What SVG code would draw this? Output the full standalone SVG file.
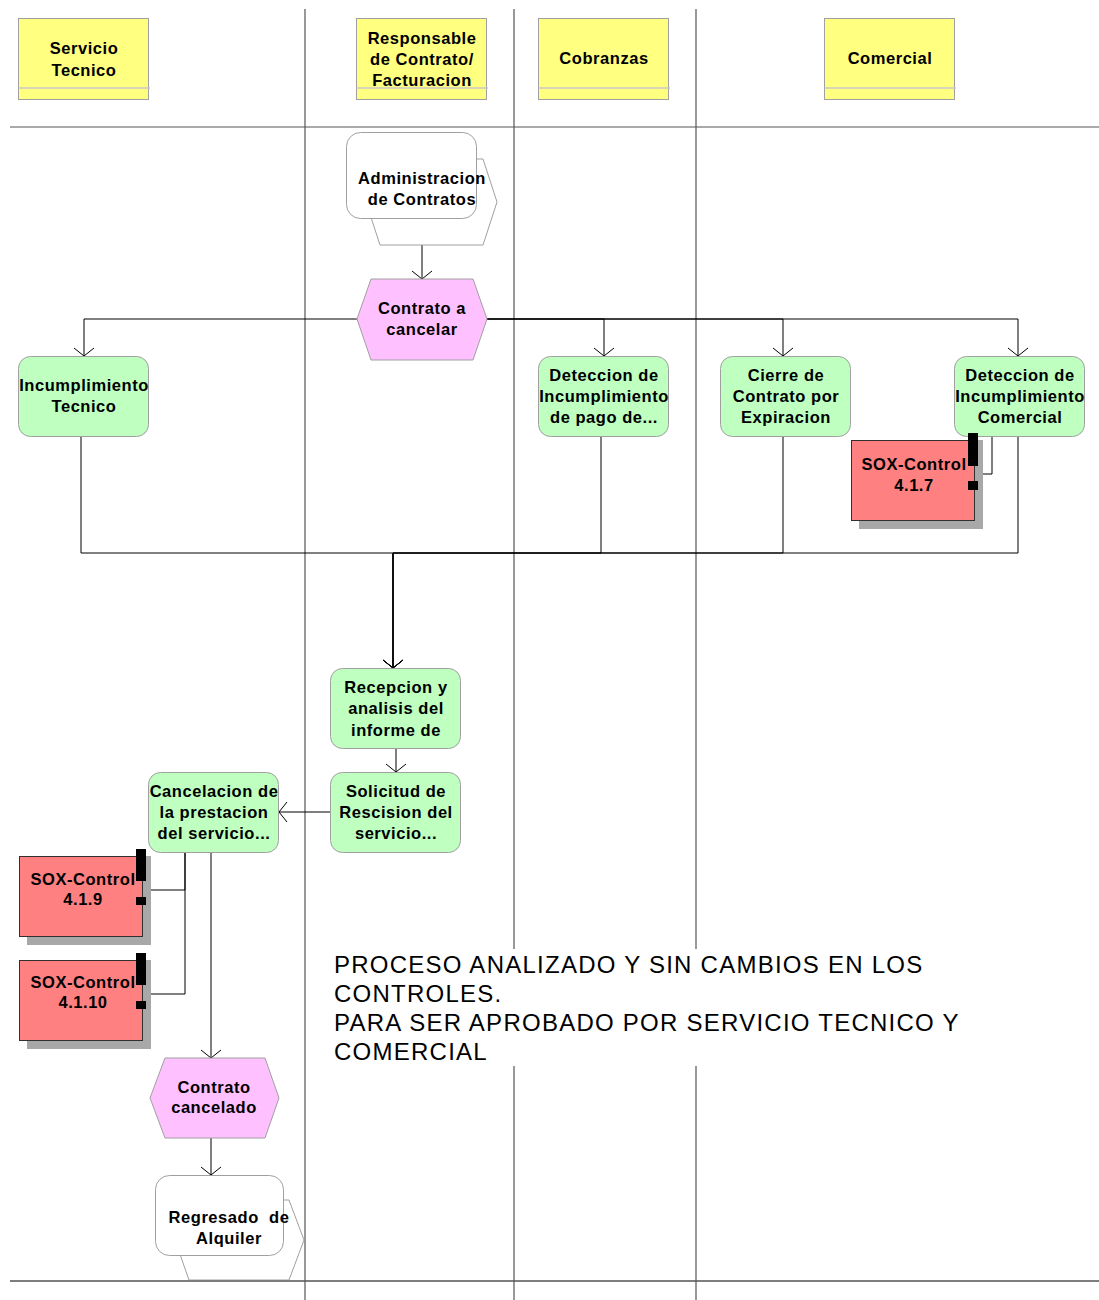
<svg xmlns="http://www.w3.org/2000/svg" width="1099" height="1300" viewBox="0 0 1099 1300">
  <style>
    .lane { stroke: #555; stroke-width: 1.2; fill: none; }
    .hdr { fill: #ffff80; stroke: #a0a0a0; stroke-width: 1; }
    .hdrline { stroke: #c8c8c8; stroke-width: 1.5; }
    .fn { fill: #bfffbf; stroke: #a0a0a0; stroke-width: 1; }
    .ev { fill: #ffc0ff; stroke: #a0a0a0; stroke-width: 1; }
    .pi { fill: #ffffff; stroke: #a0a0a0; stroke-width: 1; }
    .sox { fill: #ff8080; stroke: #303030; stroke-width: 1; }
    .shadow { fill: #a8a8a8; }
    .mark { fill: #000; }
    .t { font-family: "Liberation Sans", Arial, sans-serif; font-weight: bold; font-size: 16.5px; letter-spacing: 0.55px; fill: #000; text-anchor: middle; }
    .note { font-family: "Liberation Sans", Arial, sans-serif; font-size: 24px; letter-spacing: 1.25px; fill: #000; }
    .conn path { stroke: #000; stroke-width: 1; fill: none; }
    .arr { marker-end: url(#arrow); }
  </style>
  <defs>
    <marker id="arrow" markerUnits="userSpaceOnUse" viewBox="-10 -11 12 22" refX="0" refY="0" markerWidth="12" markerHeight="22" orient="auto" overflow="visible">
      <path d="M-8,-10 L0,0 L-8,10" fill="none" stroke="#000" stroke-width="1"/>
    </marker>
  </defs>

  <rect width="1099" height="1300" fill="#fff"/>

  <!-- swimlane grid -->
  <g id="lanes">
    <path class="lane" d="M305,9 V1300 M514,9 V1300 M696,9 V1300"/>
    <path class="lane" d="M10,127 H1099 M10,1281 H1099"/>
  </g>

  <!-- lane headers -->
  <g id="hdr-servicio">
    <rect class="hdr" x="18.5" y="18.5" width="130" height="81"/>
    <line class="hdrline" x1="18.5" y1="88" x2="150" y2="88"/>
    <text class="t"><tspan x="84" y="54">Servicio</tspan><tspan x="84" y="76">Tecnico</tspan></text>
  </g>
  <g id="hdr-responsable">
    <rect class="hdr" x="356.5" y="18.5" width="130" height="81"/>
    <line class="hdrline" x1="356.5" y1="88" x2="488" y2="88"/>
    <text class="t"><tspan x="422" y="44">Responsable</tspan><tspan x="422" y="65">de Contrato/</tspan><tspan x="422" y="86">Facturacion</tspan></text>
  </g>
  <g id="hdr-cobranzas">
    <rect class="hdr" x="538.5" y="18.5" width="130" height="81"/>
    <line class="hdrline" x1="538.5" y1="88" x2="670" y2="88"/>
    <text class="t" x="604" y="64">Cobranzas</text>
  </g>
  <g id="hdr-comercial">
    <rect class="hdr" x="824.5" y="18.5" width="130" height="81"/>
    <line class="hdrline" x1="824.5" y1="88" x2="956" y2="88"/>
    <text class="t" x="890" y="64">Comercial</text>
  </g>

  <!-- connectors -->
  <g id="connectors" class="conn">
    <path class="arr" d="M422,245 V279"/>
    <path class="arr" d="M357,319 H84 V356"/>
    <path class="arr" d="M487,319 H604 V356"/>
    <path class="arr" d="M487,319 H783 V356"/>
    <path class="arr" d="M487,319 H1018 V356"/>
    <path class="arr" d="M81,437 V553 H393 V668"/>
    <path class="arr" d="M601,437 V553 H393 V668"/>
    <path class="arr" d="M783,437 V553 H393 V668"/>
    <path class="arr" d="M1018,437 V553 H393 V668"/>
    <path d="M978,474 H992 V437"/>
    <path class="arr" d="M396,748 V772"/>
    <path class="arr" d="M330,812 H279"/>
    <path class="arr" d="M211,852 V1058"/>
    <path d="M146,890 H185 V852"/>
    <path d="M146,994 H185 V852"/>
    <path class="arr" d="M211,1138 V1175"/>
  </g>

  <!-- process interface: Administracion de Contratos -->
  <g id="pi-administracion">
    <polygon class="pi" points="380,159 483,159 497,202 483,245 380,245 366,202"/>
    <rect class="pi" x="346.5" y="132.5" width="130" height="86" rx="14"/>
    <text class="t"><tspan x="422" y="184">Administracion</tspan><tspan x="422" y="205">de Contratos</tspan></text>
  </g>

  <!-- event: Contrato a cancelar -->
  <g id="ev-contrato-a-cancelar">
    <polygon class="ev" points="357,319 371,279 473,279 487,319 473,360 371,360"/>
    <text class="t"><tspan x="422" y="314">Contrato a</tspan><tspan x="422" y="335">cancelar</tspan></text>
  </g>

  <!-- functions -->
  <g id="fn-incumplimiento-tecnico">
    <rect class="fn" x="18.5" y="356.5" width="130" height="80" rx="12"/>
    <text class="t"><tspan x="84" y="391">Incumplimiento</tspan><tspan x="84" y="412">Tecnico</tspan></text>
  </g>
  <g id="fn-deteccion-pago">
    <rect class="fn" x="538.5" y="356.5" width="130" height="80" rx="12"/>
    <text class="t"><tspan x="604" y="381">Deteccion de</tspan><tspan x="604" y="402">Incumplimiento</tspan><tspan x="604" y="423">de pago de...</tspan></text>
  </g>
  <g id="fn-cierre-contrato">
    <rect class="fn" x="720.5" y="356.5" width="130" height="80" rx="12"/>
    <text class="t"><tspan x="786" y="381">Cierre de</tspan><tspan x="786" y="402">Contrato por</tspan><tspan x="786" y="423">Expiracion</tspan></text>
  </g>
  <g id="fn-deteccion-comercial">
    <rect class="fn" x="954.5" y="356.5" width="130" height="80" rx="12"/>
    <text class="t"><tspan x="1020" y="381">Deteccion de</tspan><tspan x="1020" y="402">Incumplimiento</tspan><tspan x="1020" y="423">Comercial</tspan></text>
  </g>

  <!-- control 4.1.7 -->
  <g id="sox-417">
    <rect class="shadow" x="859" y="448" width="124" height="81"/>
    <rect class="sox" x="851.5" y="440.5" width="123" height="80"/>
    <text class="t"><tspan x="914" y="470">SOX-Control</tspan><tspan x="914" y="491">4.1.7</tspan></text>
    <rect class="shadow" x="975" y="440" width="8" height="33"/>
    <rect class="mark" x="968" y="433" width="10" height="33"/>
    <rect class="mark" x="968" y="481" width="10" height="9"/>
  </g>

  <g id="fn-recepcion">
    <rect class="fn" x="330.5" y="668.5" width="130" height="80" rx="12"/>
    <text class="t"><tspan x="396" y="693">Recepcion y</tspan><tspan x="396" y="714">analisis del</tspan><tspan x="396" y="736">informe de</tspan></text>
  </g>
  <g id="fn-solicitud">
    <rect class="fn" x="330.5" y="772.5" width="130" height="80" rx="12"/>
    <text class="t"><tspan x="396" y="797">Solicitud de</tspan><tspan x="396" y="818">Rescision del</tspan><tspan x="396" y="839">servicio...</tspan></text>
  </g>
  <g id="fn-cancelacion">
    <rect class="fn" x="148.5" y="772.5" width="130" height="80" rx="12"/>
    <text class="t"><tspan x="214" y="797">Cancelacion de</tspan><tspan x="214" y="818">la prestacion</tspan><tspan x="214" y="839">del servicio...</tspan></text>
  </g>

  <!-- controls 4.1.9 / 4.1.10 -->
  <g id="sox-419">
    <rect class="shadow" x="27" y="864" width="124" height="81"/>
    <rect class="sox" x="19.5" y="856.5" width="123" height="80"/>
    <text class="t"><tspan x="83" y="885">SOX-Control</tspan><tspan x="83" y="905">4.1.9</tspan></text>
    <rect class="shadow" x="143" y="856" width="8" height="33"/>
    <rect class="mark" x="136" y="849" width="10" height="32"/>
    <rect class="mark" x="136" y="897" width="10" height="8"/>
  </g>
  <g id="sox-4110">
    <rect class="shadow" x="27" y="968" width="124" height="81"/>
    <rect class="sox" x="19.5" y="960.5" width="123" height="80"/>
    <text class="t"><tspan x="83" y="988">SOX-Control</tspan><tspan x="83" y="1008">4.1.10</tspan></text>
    <rect class="shadow" x="143" y="960" width="8" height="33"/>
    <rect class="mark" x="136" y="953" width="10" height="32"/>
    <rect class="mark" x="136" y="1001" width="10" height="8"/>
  </g>

  <!-- event: Contrato cancelado -->
  <g id="ev-contrato-cancelado">
    <polygon class="ev" points="150,1098 165,1058 265,1058 279,1098 265,1138 165,1138"/>
    <text class="t"><tspan x="214" y="1093">Contrato</tspan><tspan x="214" y="1113">cancelado</tspan></text>
  </g>

  <!-- process interface: Regresado de Alquiler -->
  <g id="pi-regresado">
    <polygon class="pi" points="189,1200 289,1200 304,1240 289,1280 189,1280 175,1240"/>
    <rect class="pi" x="155.5" y="1175.5" width="128" height="80" rx="14"/>
    <text class="t" style="white-space:pre"><tspan x="229" y="1223">Regresado  de</tspan><tspan x="229" y="1244">Alquiler</tspan></text>
  </g>
  <line class="lane" x1="10" y1="1281" x2="1099" y2="1281"/>

  <!-- note -->
  <g id="note">
    <rect x="330" y="949" width="636" height="117" fill="#fff"/>
    <text class="note"><tspan x="334" y="973">PROCESO ANALIZADO Y SIN CAMBIOS EN LOS</tspan><tspan x="334" y="1002">CONTROLES.</tspan><tspan x="334" y="1031">PARA SER APROBADO POR SERVICIO TECNICO Y</tspan><tspan x="334" y="1060">COMERCIAL</tspan></text>
  </g>
</svg>
